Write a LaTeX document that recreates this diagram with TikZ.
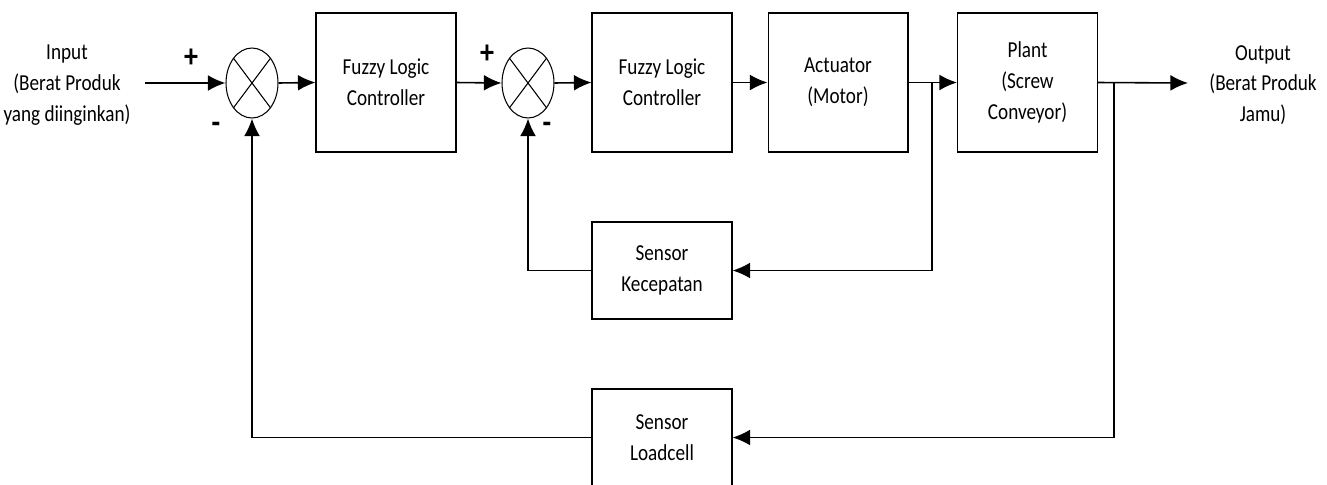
\documentclass[tikz,border=0pt]{standalone}
\usepackage{fontspec}
\setmainfont{Carlito}[FakeStretch=0.84]
\usetikzlibrary{arrows.meta,shapes.geometric}

\begin{document}
\begin{tikzpicture}[x=0.02cm,y=-0.02cm,
  font=\fontsize{13}{17.5}\selectfont,
  blok/.style={draw,line width=0.6pt,minimum width=2.8cm,minimum height=2.78cm,align=center,inner sep=0pt},
  sensorblok/.style={blok,minimum height=1.94cm},
  sumnode/.style={draw,ellipse,line width=0.6pt,minimum width=1.04cm,minimum height=1.4cm,inner sep=0pt},
  tekst/.style={align=center,inner sep=0pt},
  teken/.style={inner sep=0pt,font=\fontsize{19}{19}\selectfont\bfseries},
  lijn/.style={line width=0.9pt}]
  \tikzset{>={Latex[length=10pt,width=9pt]}}
  \useasboundingbox (0,0) rectangle (1327,484);

  % forward path
  \node[tekst] (input) at (67,85) {Input\\(Berat Produk\\yang diinginkan)};
  \node[sumnode] (sum1) at (252,83) {};
  \node[blok] (flc1) at (386,82.5) {Fuzzy Logic\\Controller};
  \node[sumnode] (sum2) at (528,83) {};
  \node[blok] (flc2) at (662,82.5) {Fuzzy Logic\\Controller};
  \node[blok] (act) at (838,82.5) {Actuator\\(Motor)};
  \node[blok] (plant) at (1027.5,82.5) {Plant\\(Screw\\Conveyor)};
  \node[tekst] (output) at (1263,85) {Output\\(Berat Produk\\Jamu)};

  % sensors
  \node[sensorblok] (kec) at (662,270.5) {Sensor\\Kecepatan};
  \node[sensorblok] (load) at (662,437.5) {Sensor\\Loadcell};

  % signs
  \node[teken] (p1) at (191,58) {+};
  \node[teken] (m1) at (216,128) {-};
  \node[teken] (p2) at (487,54) {+};
  \node[teken] (m2) at (547,128) {-};

  \foreach \s in {sum1,sum2} {
    \draw[line width=0.6pt] (\s.north west) -- (\s.south east);
    \draw[line width=0.6pt] (\s.north east) -- (\s.south west);
  }

  \coordinate (in) at (145,83);
  \coordinate (tap1) at (932,83);
  \coordinate (tap2) at (1114,83);
  \coordinate (uit) at (1188,83);

  \draw[lijn,->] (in) -- (sum1.west);
  \draw[lijn,->] (sum1.east) -- (flc1.west);
  \draw[lijn,->] (flc1.east) -- (sum2.west);
  \draw[lijn,->] (sum2.east) -- (flc2.west);
  \draw[lijn,->] (flc2.east) -- (act.west);
  \draw[lijn,->] (act.east) -- (plant.west);
  \draw[lijn,->] (plant.east) -- (uit);

  % feedback loops
  \draw[lijn,->] (tap1) |- (kec.east);
  \draw[lijn,->] (kec.west) -| (sum2.south);
  \draw[lijn,->] (tap2) |- (load.east);
  \draw[lijn,->] (load.west) -| (sum1.south);

\end{tikzpicture}
\end{document}
